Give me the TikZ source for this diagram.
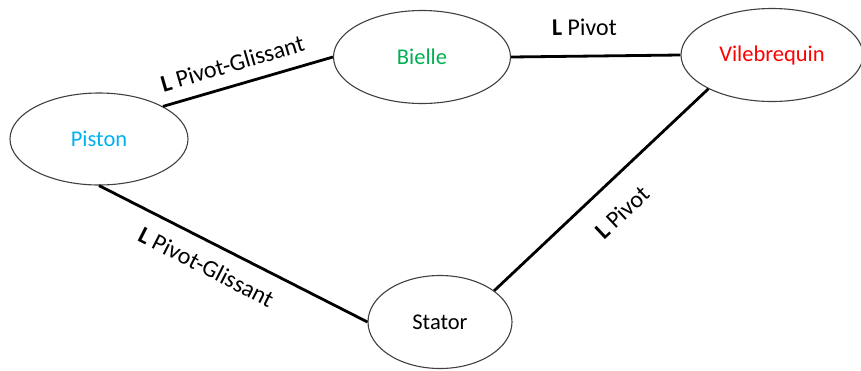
\documentclass[tikz,border=0pt]{standalone}
\usepackage{fontspec}
\setmainfont{Carlito}
\usetikzlibrary{shapes.geometric}
\definecolor{pblue}{HTML}{00B0F0}
\definecolor{pgreen}{HTML}{00B050}
\definecolor{pred}{HTML}{FF0000}
\begin{document}
\begin{tikzpicture}[x=1pt,y=-1pt,
  part/.style={ellipse, draw=black!75, line width=1.1pt, inner sep=0pt, font=\fontsize{22.5}{26}\selectfont},
  link/.style={line width=2.8pt},
  lab/.style={sloped, inner sep=0pt, font=\fontsize{24}{28}\selectfont}]
\useasboundingbox (0,0) rectangle (861,370);
\node[part, minimum width=178pt, minimum height=92pt, text=pblue] (pis) at (99,139) {Piston};
\node[part, minimum width=177pt, minimum height=93pt, text=pgreen] (bie) at (422,57) {Bielle};
\node[part, minimum width=182pt, minimum height=93pt, text=pred] (vil) at (772,55) {Vilebrequin};
\node[part, minimum width=144pt, minimum height=93pt] (sta) at (440,322) {Stator};
\draw[link] (pis.27) -- node[lab, pos=0.445, above=12pt] (l1) {\textbf{L} Pivot-Glissant} (bie.west);
\draw[link] (bie.east) -- node[lab, pos=0.435, above=19pt] (l2) {\textbf{L} Pivot} (vil.west);
\draw[link] (sta.30) -- node[lab, pos=0.5, below=21pt] (l3) {\textbf{L} Pivot} (vil.208);
\draw[link] (pis.south) -- node[lab, pos=0.44, below=14pt] (l4) {\textbf{L} Pivot-Glissant} (sta.west);
\end{tikzpicture}
\end{document}
